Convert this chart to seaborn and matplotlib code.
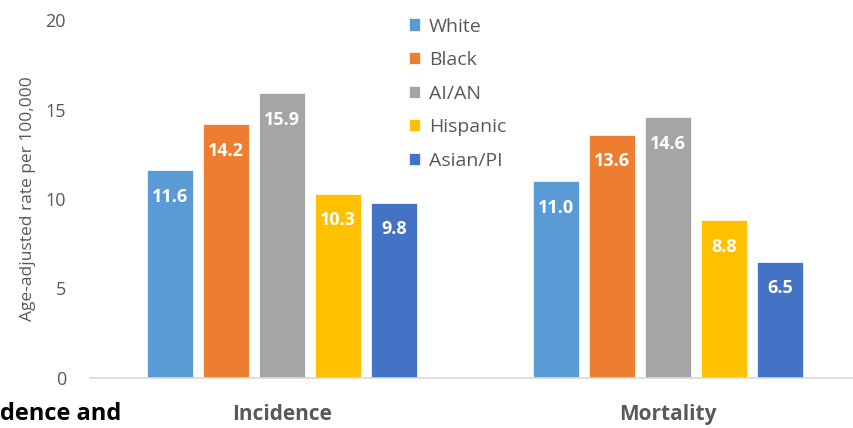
import numpy as np
import pandas as pd
import matplotlib.pyplot as plt
import seaborn as sns

# 数据
measures = ['Incidence', 'Mortality']
groups = ['White', 'Black', 'AI/AN', 'Hispanic', 'Asian/PI']
incidence = [11.6, 14.2, 15.9, 10.3, 9.8]
mortality = [11.0, 13.6, 14.6, 8.8, 6.5]
colors = ['#5B9BD5', '#ED7D31', '#A5A5A5', '#FFC000', '#4472C4']

df = pd.DataFrame({
    'measure': [measures[0]] * len(groups) + [measures[1]] * len(groups),
    'group': groups * 2,
    'rate': incidence + mortality,
})

sns.set_style('white')
plt.rcParams['font.family'] = ['Open Sans', 'DejaVu Sans']
grey = '#595959'

fig = plt.figure(figsize=(8.54, 4.28), dpi=100)
ax = fig.add_axes([0.105, 0.117, 0.895, 0.836])

sns.barplot(data=df, x='measure', y='rate', hue='group', order=measures,
            hue_order=groups, palette=colors, saturation=1, width=0.727, gap=0.18,
            edgecolor='white', linewidth=0.5, ax=ax)

for cont in ax.containers:
    for bar in cont:
        h = bar.get_height()
        ax.text(bar.get_x() + bar.get_width() / 2, h - 1.5, f'{h:.1f}',
                ha='center', va='center', color='white', fontsize=13,
                fontweight='bold')

ax.set_ylim(0, 20)
ax.set_xlim(-0.5, 1.483)
ax.set_yticks([0, 5, 10, 15, 20])
ax.tick_params(axis='y', length=0, pad=17, labelsize=13, labelcolor=grey)
ax.tick_params(axis='x', length=0, pad=19, labelsize=15, labelcolor=grey)
for lab in ax.get_xticklabels():
    lab.set_fontweight('bold')
ax.set_xlabel('')
ax.set_ylabel('Age-adjusted rate per 100,000', fontsize=12.5, color=grey, labelpad=7)

for s in ['top', 'right', 'left']:
    ax.spines[s].set_visible(False)
ax.spines['bottom'].set_color('#D9D9D9')
ax.spines['bottom'].set_linewidth(1.2)

handles, labels = ax.get_legend_handles_labels()
ax.legend(handles, labels, loc='upper left', bbox_to_anchor=(0.458, 1.0),
          bbox_transform=fig.transFigure, frameon=False, fontsize=14,
          handlelength=0.6, handleheight=0.6, handletextpad=0.45,
          labelspacing=0.8, labelcolor=grey)

# 被截断的标题（只露出一部分）
fig.text(0.0, 0.004, 'dence and', ha='left', va='bottom',
         fontsize=17, fontweight='bold', color='black')

fig.savefig('out.png', dpi=100)
